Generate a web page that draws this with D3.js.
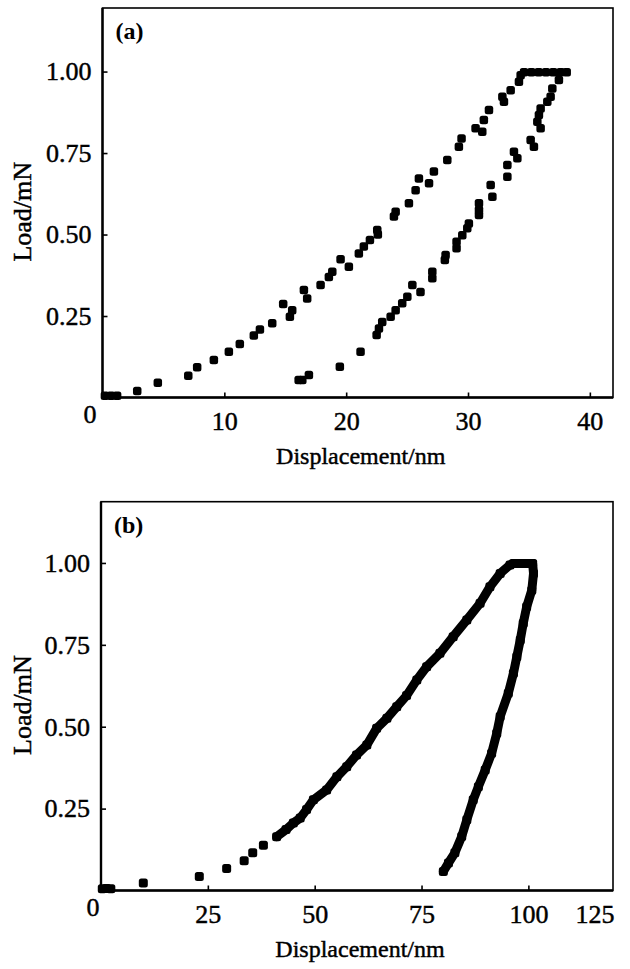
<!DOCTYPE html>
<html>
<head>
<meta charset="utf-8">
<script src="https://cdn.jsdelivr.net/npm/d3@7"></script>
<style>
  body { margin: 0; background: #fff; }
  svg { display: block; }
</style>
</head>
<body>
<svg id="chart" width="630" height="969"></svg>
<script>
"use strict";

var FONT = "'Liberation Serif', 'Times New Roman', serif";

// ---- data: [displacement nm, load mN] ----

// panel (a)
var aLoading = [
    [0.2, 0.005], [0.7, 0.005], [1.2, 0.005],
    [2.85, 0.02], [4.54, 0.045], [7.04, 0.067], [7.77, 0.093], [9.14, 0.115],
    [10.37, 0.14], [11.27, 0.164], [12.42, 0.19], [12.92, 0.209], [13.93, 0.228],
    [14.83, 0.287], [15.38, 0.248], [15.57, 0.268], [16.53, 0.33], [16.8, 0.304],
    [17.9, 0.345], [18.58, 0.37], [18.86, 0.386], [19.54, 0.424], [20.22, 0.401],
    [21.04, 0.442], [21.45, 0.463], [21.95, 0.483], [22.55, 0.514], [22.6, 0.5],
    [23.92, 0.555], [24.06, 0.57], [25.15, 0.596], [25.7, 0.636], [25.97, 0.672],
    [26.8, 0.657], [27.2, 0.693], [28.3, 0.729], [29.25, 0.769], [29.47, 0.795],
    [30.62, 0.826], [31.17, 0.815], [31.3, 0.851], [31.72, 0.882], [32.82, 0.923],
    [32.95, 0.907], [33.5, 0.943], [34.18, 0.969], [34.32, 0.989]
];
var aHold = [
    [34.6, 0.998], [35.2, 0.998], [35.8, 0.998], [36.4, 0.998], [37.0, 0.998],
    [37.6, 0.998], [38.1, 0.998]
];
var aUnloading = [
    [37.46, 0.974], [36.92, 0.948], [36.78, 0.923], [36.51, 0.907], [35.96, 0.887],
    [35.82, 0.867], [35.69, 0.846], [35.96, 0.826], [35.14, 0.79], [35.41, 0.769],
    [33.77, 0.754], [34.05, 0.734], [33.23, 0.713], [33.23, 0.677], [31.86, 0.652],
    [32.0, 0.616], [30.9, 0.596], [30.9, 0.575], [30.9, 0.56], [30.07, 0.534],
    [29.94, 0.519], [29.53, 0.498], [29.06, 0.478], [29.06, 0.458], [28.16, 0.437],
    [28.1, 0.422], [27.07, 0.386], [27.07, 0.366], [25.43, 0.345], [26.1, 0.324],
    [25.02, 0.309], [24.6, 0.289], [24.06, 0.268], [23.65, 0.248], [22.96, 0.232],
    [22.69, 0.212], [22.5, 0.192], [21.18, 0.14], [19.48, 0.094], [16.94, 0.069],
    [16.4, 0.054], [16.1, 0.054]
];

// panel (b): separate points at the toe, then a dense run that merges into a band
var bToe = [
    [0.3, 0.005], [1.3, 0.006], [2.3, 0.005], [9.9, 0.023], [23.0, 0.043],
    [29.4, 0.067], [33.5, 0.091], [35.5, 0.115], [38.0, 0.138]
];
var bLoading = [
    [41.1, 0.164], [43.3, 0.186], [45.0, 0.206], [46.6, 0.221], [48.1, 0.247],
    [49.7, 0.277], [52.8, 0.307], [55.2, 0.347], [57.5, 0.378], [59.8, 0.414],
    [62.2, 0.444], [64.5, 0.495], [66.9, 0.526], [69.2, 0.561], [71.5, 0.595],
    [73.9, 0.643], [76.2, 0.683], [79.3, 0.724], [82.4, 0.775], [85.6, 0.826],
    [88.7, 0.877], [91.0, 0.927], [93.4, 0.968], [95.7, 0.994]
];
var bHold = [[96.5, 0.998], [98.0, 0.998], [99.5, 0.998], [101.0, 0.998]];
var bUnloading = [
    [101.2, 0.968], [100.8, 0.917], [99.6, 0.866], [98.8, 0.816], [98.1, 0.765],
    [97.3, 0.714], [96.5, 0.663], [95.3, 0.602], [93.4, 0.531], [92.6, 0.48],
    [91.4, 0.419], [89.9, 0.368], [88.3, 0.317], [87.1, 0.277], [85.6, 0.216],
    [84.4, 0.165], [82.8, 0.115], [81.3, 0.084], [80.1, 0.058]
];

// tick labels
var aXTicks = [10, 20, 30, 40];
var bXTicks = [25, 50, 75, 100, 125];
var yTicks = [0.25, 0.50, 0.75, 1.00];

var svg = d3.select("#chart");

// scanned print looks a bit heavier than the plain font
function ink(sel) {
    sel.attr("fill", "#000").attr("stroke", "#000").attr("stroke-width", 0.45);
}

// draws one load-displacement panel
function drawPanel(opt) {
    var x = d3.scaleLinear().domain(opt.xDomain).range([opt.left, opt.right]);
    var y = d3.scaleLinear().domain([0, opt.yMax]).range([opt.bottom, opt.top]);
    var g = svg.append("g").style("font-family", FONT);

    // frame
    g.append("rect")
        .attr("x", opt.left).attr("y", opt.top)
        .attr("width", opt.right - opt.left).attr("height", opt.bottom - opt.top)
        .attr("fill", "none").attr("stroke", "#000").attr("stroke-width", 1.6);
    g.append("path")
        .attr("d", "M" + opt.left + "," + opt.top + "V" + opt.bottom + "H" + opt.right)
        .attr("fill", "none").attr("stroke", "#000").attr("stroke-width", 2.4);

    // bottom axis, ticks point inward
    var xMax = opt.xDomain[1];
    var xAxis = d3.axisBottom(x)
        .tickValues(opt.xTicks.map(function(v) { return Math.min(v, xMax); }))
        .tickSizeInner(-5).tickSizeOuter(0).tickPadding(14)
        .tickFormat(function(d, i) { return String(opt.xTicks[i]); });
    var xg = g.append("g").attr("transform", "translate(0," + opt.bottom + ")").call(xAxis);
    xg.attr("font-family", null).attr("font-size", null);
    xg.select(".domain").remove();
    xg.selectAll("line").attr("stroke", "#000").attr("stroke-width", 1.6);
    xg.selectAll("text")
        .style("font-family", FONT).style("font-size", "26px")
        .attr("text-anchor", function(d) { return d >= xMax ? "end" : "middle"; })
        .attr("dx", function(d) { return d >= xMax ? "1" : "0"; })
        .call(ink);
    // the last label of (b) sits at the frame corner, without a tick
    xg.selectAll(".tick").filter(function(d) { return d >= xMax; }).select("line").remove();

    // corner zero
    g.append("text")
        .attr("x", opt.left - opt.zeroDx).attr("y", opt.bottom + 25)
        .attr("text-anchor", "middle").style("font-size", "26px")
        .text("0").call(ink);

    // left axis
    var yAxis = d3.axisLeft(y)
        .tickValues(yTicks)
        .tickSizeInner(-5).tickSizeOuter(0).tickPadding(11)
        .tickFormat(d3.format(".2f"));
    var yg = g.append("g").attr("transform", "translate(" + opt.left + ",0)").call(yAxis);
    yg.attr("font-family", null).attr("font-size", null);
    yg.select(".domain").remove();
    yg.selectAll("line").attr("stroke", "#000").attr("stroke-width", 1.6);
    yg.selectAll("text").style("font-family", FONT).style("font-size", "26px").call(ink);

    // axis titles
    g.append("text")
        .attr("x", (opt.left + opt.right) / 2 + 3).attr("y", opt.bottom + 66)
        .attr("text-anchor", "middle").style("font-size", "24px")
        .text("Displacement/nm").call(ink);
    g.append("text")
        .attr("transform", "translate(31," + ((opt.top + opt.bottom) / 2 + 9) + ") rotate(-90)")
        .attr("text-anchor", "middle").style("font-size", "26px")
        .text("Load/mN").call(ink);

    // panel tag
    g.append("text")
        .attr("x", opt.left + 13).attr("y", opt.top + 31)
        .style("font-size", "24px").style("font-weight", "bold")
        .text(opt.tag);

    // dense runs are joined into a thick band
    var line = d3.line().x(function(d) { return x(d[0]); }).y(function(d) { return y(d[1]); });
    if (opt.band) {
        g.append("path")
            .attr("d", line(opt.band))
            .attr("fill", "none").attr("stroke", "#000")
            .attr("stroke-width", 9).attr("stroke-linejoin", "round").attr("stroke-linecap", "round");
    }

    // markers
    var all = [];
    opt.series.forEach(function(sr) { all = all.concat(sr); });
    var s = opt.marker;
    g.selectAll("rect.pt").data(all).enter().append("rect")
        .attr("class", "pt")
        .attr("x", function(d) { return x(d[0]) - s / 2; })
        .attr("y", function(d) { return y(d[1]) - s / 2; })
        .attr("width", s).attr("height", s).attr("rx", 2.5)
        .attr("fill", "#000");
}

drawPanel({
    tag: "(a)",
    left: 102.5, right: 613, top: 8, bottom: 397.5,
    xDomain: [0, 41.9], yMax: 1.195,
    xTicks: aXTicks, zeroDx: 12.5, marker: 8.5,
    series: [aLoading, aHold, aUnloading],
    band: null
});

drawPanel({
    tag: "(b)",
    left: 101, right: 613, top: 501.7, bottom: 890.5,
    xDomain: [0, 119.8], yMax: 1.187,
    xTicks: bXTicks, zeroDx: 8, marker: 9,
    series: [bToe, bLoading, bHold, bUnloading],
    band: bLoading.concat(bHold, bUnloading)
});
</script>
</body>
</html>
